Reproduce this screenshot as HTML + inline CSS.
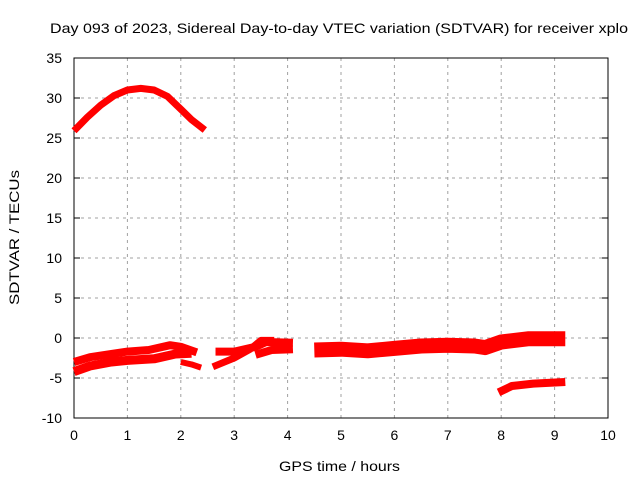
<!DOCTYPE html>
<html><head><meta charset="utf-8"><style>
body{margin:0;background:#fff}
svg text{font-family:"Liberation Sans",sans-serif;font-size:14px;fill:#000}
</style></head><body>
<svg id="c" width="640" height="480"></svg>
<script>
const xTicks=[0,1,2,3,4,5,6,7,8,9,10];
const yTicks=[-10,-5,0,5,10,15,20,25,30,35];
const arcH=[0,0.25,0.5,0.75,1,1.25,1.5,1.75,2,2.2,2.45];
const arcV=[25.9,27.6,29.1,30.3,31,31.2,31,30.2,28.6,27.3,26];
const s1H=[0,0.3,0.7,1,1.4,1.8,2.0,2.3];
const s1V=[-3,-2.4,-2,-1.7,-1.5,-0.9,-1.1,-1.8];
const s2H=[0,0.3,0.7,1,1.5,1.9,2.2];
const s2V=[-4.2,-3.5,-3,-2.8,-2.6,-2.0,-1.9];
const s3H=[2.0,2.2,2.38];
const s3V=[-3,-3.3,-3.7];
const s4H=[2.65,3.0,3.4,3.6,4.1];
const s4V=[-1.7,-1.7,-1.1,-0.5,-0.6];
const s5H=[2.6,3.0,3.3,3.5,3.75];
const s5V=[-3.6,-2.5,-1.4,-0.3,-0.3];
const s6H=[3.4,3.7,4.1];
const s6V=[-2.1,-1.5,-1.4];
const s7H=[4.5,5,5.5,6,6.5,7,7.5,7.7,8,8.5,9.2];
const s7V=[-1.5,-1.4,-1.6,-1.3,-1.0,-0.9,-1.0,-1.2,-0.5,-0.1,-0.1];
const s8H=[7.95,8.2,8.6,9.2];
const s8V=[-6.8,-6.0,-5.7,-5.5];
const series=[[arcH,arcV,7],[s1H,s1V,8],[s2H,s2V,9],[s3H,s3V,6],[s4H,s4V,8],[s5H,s5V,7],[s6H,s6V,8],[s7H,s7V,15],[s8H,s8V,8]];
const L=74,R=608,T=58,B=418;
const X=h=>L+(h-0)/10*(R-L);
const Y=v=>B-(v+10)/45*(B-T);
const svg=document.getElementById('c');
const NS='http://www.w3.org/2000/svg';
function mk(t,a){const e=document.createElementNS(NS,t);for(const k in a)e.setAttribute(k,a[k]);svg.appendChild(e);return e;}
xTicks.forEach(t=>{
 if(t>0&&t<10){const g=mk('line',{x1:X(t),x2:X(t),y1:T,y2:B,stroke:'#a0a0a0','stroke-dasharray':'3,4'});
 
 }
 const tx=mk('text',{x:X(t),y:B+22,'text-anchor':'middle'});tx.textContent=t;
 
 
});
yTicks.forEach(t=>{
 if(t>-10&&t<35){const g=mk('line',{x1:L,x2:R,y1:Y(t),y2:Y(t),stroke:'#a0a0a0','stroke-dasharray':'3,4'});
 
 }
 mk('line',{x1:L,x2:L+6,y1:Y(t),y2:Y(t),stroke:'#000'});
 mk('line',{x1:R,x2:R-6,y1:Y(t),y2:Y(t),stroke:'#000'});
 const tx=mk('text',{x:L-12,y:Y(t)+5,'text-anchor':'end'});tx.textContent=t;
 
 
});
const fr=mk('rect',{x:L,y:T,width:R-L,height:B-T,fill:'none',stroke:'#000'});


series.forEach(([h,v,w])=>{
 const p=mk('polyline',{points:h.map((x,i)=>X(x)+','+Y(v[i])).join(' '),fill:'none',stroke:'#ff0000','stroke-width':w,'stroke-linejoin':'round'});
 
 
});
let t=mk('text',{x:50,y:33,textLength:578,lengthAdjust:'spacingAndGlyphs','font-size':'15'});t.textContent='Day 093 of 2023, Sidereal Day-to-day VTEC variation (SDTVAR) for receiver xplo';


t=mk('text',{x:279,y:471,textLength:121,lengthAdjust:'spacingAndGlyphs','font-size':'15'});t.textContent='GPS time / hours';


t=mk('text',{x:19,y:305,textLength:135,lengthAdjust:'spacingAndGlyphs','font-size':'15',transform:'rotate(-90 19 305)'});t.textContent='SDTVAR / TECUs';


</script>
</body></html>
